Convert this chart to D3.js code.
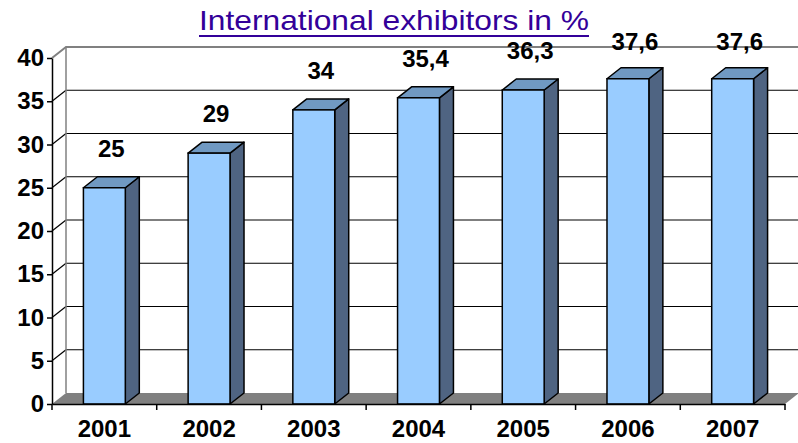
<!DOCTYPE html>
<html>
<head>
<meta charset="utf-8">
<script src="https://cdn.jsdelivr.net/npm/d3@7"></script>
<style>
  body { margin: 0; background: #fff; }
  svg { display: block; font-family: "Liberation Sans", Arial, sans-serif; }
</style>
</head>
<body>
<div id="chart"></div>
<script>
const years = ["2001", "2002", "2003", "2004", "2005", "2006", "2007"];
const shares = [25, 29, 34, 35.4, 36.3, 37.6, 37.6];
const yTicks = [0, 5, 10, 15, 20, 25, 30, 35, 40];
const titleText = "International exhibitors in %";

const width = 798;
const height = 443;
// 3D offset of the back wall relative to the front plane
const depth = { dx: 14, dy: -11 };

const svg = d3.select("#chart")
    .append("svg")
    .attr("width", width)
    .attr("height", height);

const x = d3.scaleBand()
    .domain(years)
    .range([52, 785])
    .paddingInner(0)
    .paddingOuter(0);

const y = d3.scaleLinear()
    .domain([0, 40])
    .range([404, 58]);

const fmt = v => String(v).replace(".", ",");

// floor
const [fx0, fx1] = x.range();
const y0 = y(0);
svg.append("path")
    .attr("d", `M${fx0},${y0} L${fx0 + depth.dx},${y0 + depth.dy} L${fx1 + depth.dx},${y0 + depth.dy} L${fx1},${y0} Z`)
    .attr("fill", "#808080");

// gridlines on back wall and left wall
const inner = yTicks.filter(t => t > 0 && t < 40);
const grid = svg.append("g");
grid.selectAll("line.back")
    .data(inner)
    .enter()
    .append("line")
    .attr("x1", fx0 + depth.dx)
    .attr("x2", fx1 + depth.dx)
    .attr("y1", d => y(d) + depth.dy)
    .attr("y2", d => y(d) + depth.dy)
    .attr("stroke", "#000")
    .attr("stroke-width", 1.2);

grid.selectAll("line.side")
    .data(inner)
    .enter()
    .append("line")
    .attr("x1", fx0)
    .attr("x2", fx0 + depth.dx)
    .attr("y1", d => y(d))
    .attr("y2", d => y(d) + depth.dy)
    .attr("stroke", "#000")
    .attr("stroke-width", 1.2);

// wall outlines (grey)
const yTop = y(40);
svg.append("path")
    .attr("d", `M${fx0},${yTop} L${fx0 + depth.dx},${yTop + depth.dy} L${fx1 + depth.dx + 2},${yTop + depth.dy}`)
    .attr("fill", "none")
    .attr("stroke", "#808080")
    .attr("stroke-width", 2);
svg.append("line")
    .attr("x1", fx0 + depth.dx)
    .attr("x2", fx0 + depth.dx)
    .attr("y1", yTop + depth.dy)
    .attr("y2", y0 + depth.dy)
    .attr("stroke", "#808080")
    .attr("stroke-width", 1.5);

// bars
const barW = x.bandwidth() * 0.4;
const bars = svg.append("g")
    .selectAll("g")
    .data(years.map((yr, i) => ({ year: yr, value: shares[i] })))
    .enter()
    .append("g");

const barLeft = d => x(d.year) + x.bandwidth() / 2 - barW / 2;

bars.append("path")
    .attr("d", d => {
        const l = barLeft(d), r = l + barW, t = y(d.value);
        return `M${r},${t} L${r + depth.dx},${t + depth.dy} L${r + depth.dx},${y0 + depth.dy} L${r},${y0} Z`;
    })
    .attr("fill", "#4f6482")
    .attr("stroke", "#000")
    .attr("stroke-width", 1.5)
    .attr("stroke-linejoin", "round");

bars.append("path")
    .attr("d", d => {
        const l = barLeft(d), r = l + barW, t = y(d.value);
        return `M${l},${t} L${l + depth.dx},${t + depth.dy} L${r + depth.dx},${t + depth.dy} L${r},${t} Z`;
    })
    .attr("fill", "#7099c2")
    .attr("stroke", "#000")
    .attr("stroke-width", 1.5)
    .attr("stroke-linejoin", "round");

bars.append("rect")
    .attr("x", d => barLeft(d))
    .attr("y", d => y(d.value))
    .attr("width", barW)
    .attr("height", d => y0 - y(d.value))
    .attr("fill", "#99ccff")
    .attr("stroke", "#000")
    .attr("stroke-width", 1.5);

// data labels
bars.append("text")
    .attr("x", d => x(d.year) + x.bandwidth() / 2 + depth.dx / 2)
    .attr("y", d => Math.max(y(d.value) + depth.dy - 20, 50))
    .attr("text-anchor", "middle")
    .attr("font-size", 24)
    .attr("font-weight", "bold")
    .attr("fill", "#000")
    .text(d => fmt(d.value));

// y axis
const yAxis = svg.append("g")
    .attr("transform", `translate(${fx0},0)`)
    .call(d3.axisLeft(y).tickValues(yTicks).tickSize(5).tickPadding(3).tickSizeOuter(0));
yAxis.select(".domain").attr("stroke", "#000").attr("stroke-width", 1.5);
yAxis.selectAll(".tick line").attr("stroke", "#000").attr("stroke-width", 1.5);
yAxis.selectAll(".tick text")
    .attr("font-size", 24)
    .attr("font-weight", "bold")
    .attr("font-family", "Liberation Sans, Arial, sans-serif")
    .attr("fill", "#000");

// x axis
const xAxis = svg.append("g")
    .attr("transform", `translate(0,${y0})`)
    .call(d3.axisBottom(x).tickSize(0).tickPadding(16));
xAxis.select(".domain").attr("stroke", "#000").attr("stroke-width", 1.5);
xAxis.selectAll(".tick text")
    .attr("font-size", 24)
    .attr("font-weight", "bold")
    .attr("font-family", "Liberation Sans, Arial, sans-serif")
    .attr("fill", "#000");

// category separator ticks
xAxis.selectAll("line.sep")
    .data(d3.range(years.length + 1))
    .enter()
    .append("line")
    .attr("class", "sep")
    .attr("x1", i => fx0 + i * x.bandwidth())
    .attr("x2", i => fx0 + i * x.bandwidth())
    .attr("y1", 0)
    .attr("y2", 6)
    .attr("stroke", "#000")
    .attr("stroke-width", 1.5);

// title with underline
const title = svg.append("text")
    .attr("x", 394)
    .attr("y", 30)
    .attr("text-anchor", "middle")
    .attr("font-size", 28)
    .attr("textLength", 390)
    .attr("lengthAdjust", "spacingAndGlyphs")
    .attr("fill", "#330099")
    .text(titleText);
svg.append("line")
    .attr("x1", 394 - 195)
    .attr("x2", 394 + 195)
    .attr("y1", 36)
    .attr("y2", 36)
    .attr("stroke", "#330099")
    .attr("stroke-width", 2);
</script>
</body>
</html>
